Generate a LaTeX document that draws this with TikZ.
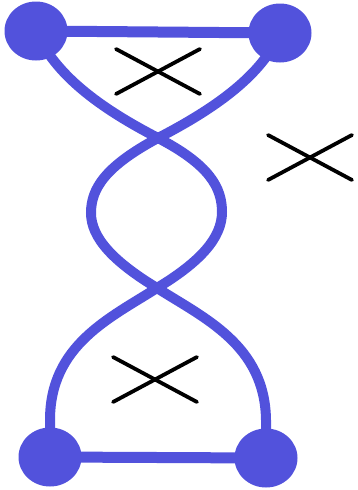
\documentclass[tikz,border=0pt]{standalone}
\usetikzlibrary{shapes.geometric}
\definecolor{vio}{RGB}{82,82,220}
\begin{document}
\begin{tikzpicture}[x=1pt,y=-1pt,
  dot/.style={ellipse,fill=vio,minimum width=63pt,minimum height=59pt,inner sep=0pt},
  band/.style={draw=vio,line width=11pt},
  strand/.style={draw=vio,line width=10pt},
  cross/.style={draw=black,line width=3.8pt,line cap=round}]
\useasboundingbox (0,0) rectangle (357,490);
\node[dot] (tl) at (36,31) {};
\node[dot] (tr) at (280,33) {};
\node[dot] (bl) at (50,457) {};
\node[dot] (br) at (266,458) {};
\coordinate (c1) at (158,138);
\coordinate (c2) at (157,288);
\draw[band] (tl.center) -- (tr.center);
\draw[band] (bl.center) -- (br.center);
\draw[strand] (tl.center) .. controls (55,75) and (100,108) .. (c1)
  .. controls (210,165) and (222,188) .. (222,212)
  .. controls (222,238) and (200,262) .. (c2)
  .. controls (110,318) and (50,345) .. (50,420) -- (bl.center);
\draw[strand] (tr.center) .. controls (262,75) and (216,108) .. (c1)
  .. controls (106,166) and (91,188) .. (91,213)
  .. controls (91,238) and (114,262) .. (c2)
  .. controls (204,318) and (265,345) .. (266,420) -- (br.center);
\foreach \n/\x/\y in {a/158/71,b/310/157,c/155/379}{
  \coordinate (\n1) at (\x-42,\y-22);
  \coordinate (\n2) at (\x+42,\y+23);
  \coordinate (\n3) at (\x-42,\y+23);
  \coordinate (\n4) at (\x+42,\y-22);
  \draw[cross] (\n1) -- (\n2);
  \draw[cross] (\n3) -- (\n4);
}
\end{tikzpicture}
\end{document}
